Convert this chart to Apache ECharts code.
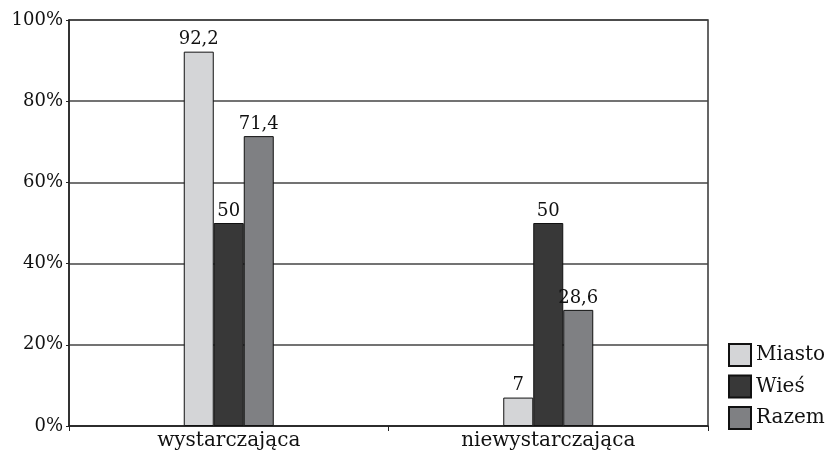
<!DOCTYPE html>
<html>
<head>
<meta charset="utf-8">
<script src="https://cdn.jsdelivr.net/npm/echarts@6/dist/echarts.min.js"></script>
<style>
  html, body { margin: 0; padding: 0; background: #fff; }
  #chart { width: 829px; height: 455px; }
</style>
</head>
<body>
<div id="chart"></div>
<script>
  // kategorie i wartości (%)
  var categories = ['wystarczająca', 'niewystarczająca']
  var miasto = [92.2, 7]
  var wies = [50, 50]
  var razem = [71.4, 28.6]
  var yTicks = [0, 20, 40, 60, 80, 100]

  var font = 'DejaVu Serif'

  var myChart = echarts.init(document.getElementById('chart'))

  function bar(name, data, color) {
    return {
      name: name,
      type: 'bar',
      data: data,
      barWidth: 30,
      barGap: '0%',
      itemStyle: { color: color, borderColor: '#111', borderWidth: 1 },
      label: {
        show: true,
        position: 'top',
        distance: 3,
        color: '#111',
        fontFamily: font,
        fontSize: 18,
        formatter: function (p) { return String(p.value).replace('.', ',') }
      }
    }
  }

  var option = {
    animation: false,
    grid: {
      left: 69,
      right: 121,
      top: 20,
      bottom: 29,
      show: true,
      borderColor: '#333',
      borderWidth: 1.5
    },
    legend: {
      orient: 'vertical',
      left: 723,
      top: 338,
      itemWidth: 22,
      itemHeight: 22,
      itemGap: 7.5,
      icon: 'rect',
      textStyle: { fontFamily: font, fontSize: 20, color: '#111' },
      data: ['Miasto', 'Wieś', 'Razem']
    },
    xAxis: {
      type: 'category',
      data: categories,
      axisLine: { lineStyle: { color: '#222', width: 1.5 } },
      axisTick: { show: true, length: 5, lineStyle: { color: '#222' } },
      axisLabel: { color: '#111', fontFamily: font, fontSize: 20, margin: 5 }
    },
    yAxis: {
      type: 'value',
      min: 0,
      max: 100,
      interval: 20,
      axisLine: { show: true, lineStyle: { color: '#222', width: 1.5 } },
      axisTick: { show: true, length: 3, lineStyle: { color: '#222' } },
      axisLabel: {
        color: '#111',
        fontFamily: font,
        fontSize: 18,
        margin: 6,
        formatter: function (v) { return yTicks.indexOf(v) >= 0 ? v + '%' : '' }
      },
      splitLine: { lineStyle: { color: '#444', width: 1.5 } }
    },
    series: [
      bar('Miasto', miasto, '#d4d5d7'),
      bar('Wieś', wies, '#383838'),
      bar('Razem', razem, '#7f8083')
    ]
  }

  myChart.setOption(option)
</script>
</body>
</html>
